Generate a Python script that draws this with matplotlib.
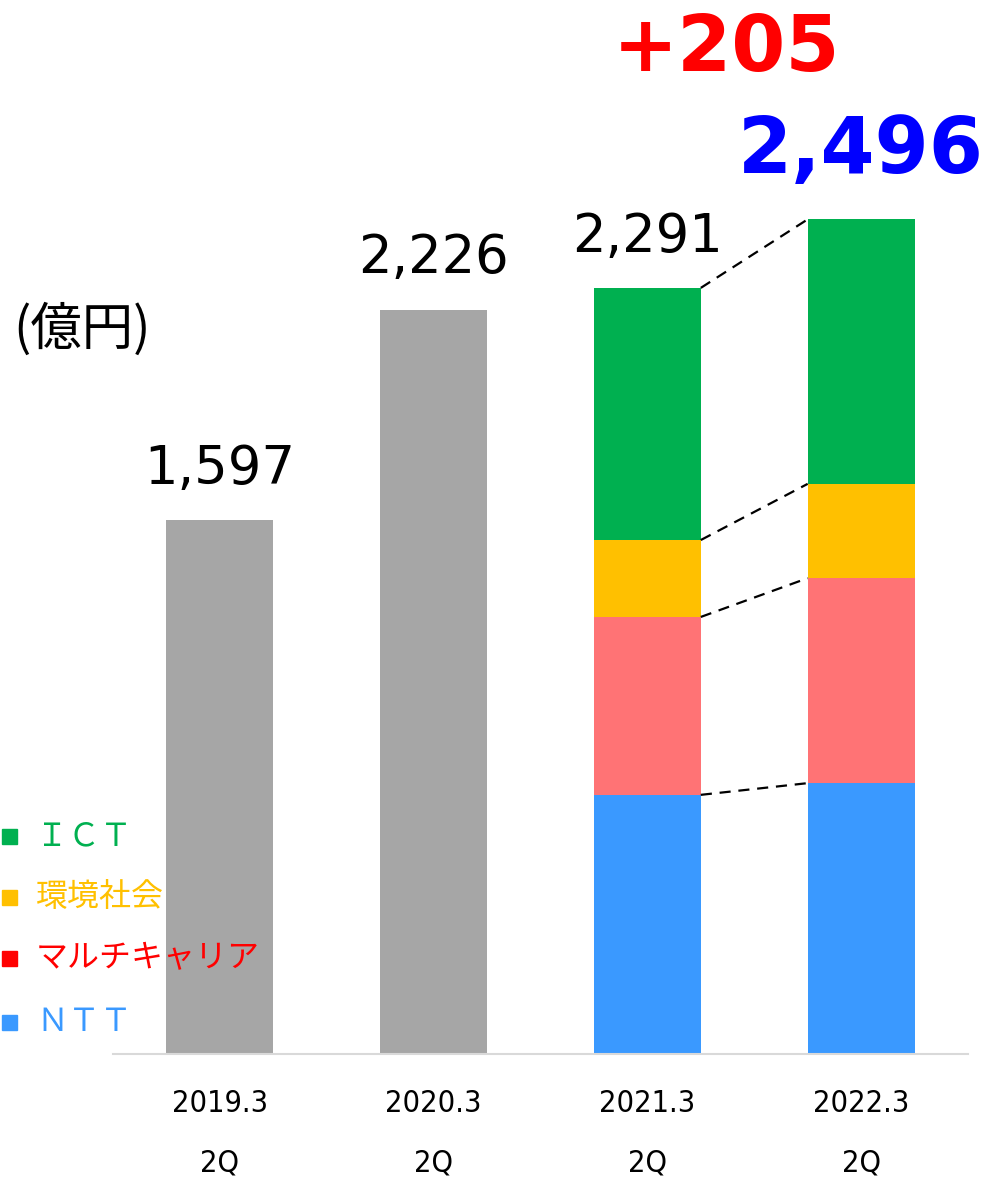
import matplotlib.pyplot as plt
from matplotlib.patches import Rectangle

# データ（億円）
periods = ['2019.3', '2020.3', '2021.3', '2022.3']
quarter = ['2Q', '2Q', '2Q', '2Q']
totals = [1597, 2226, 2291, 2496]

# 2021.3 / 2022.3 の内訳（下から NTT, マルチキャリア, 環境社会, ICT）
seg_names = ['ＮＴＴ', 'マルチキャリア', '環境社会', 'ＩＣＴ']
seg_2021 = [775, 532, 230, 754]
seg_2022 = [810, 613, 282, 791]
diff_label = '+205'

gray = '#A6A6A6'
seg_colors = ['#3A99FF', '#FF7375', '#FFC000', '#00B050']
legend_text_colors = ['#3A99FF', '#FF0000', '#FFC000', '#00B050']
legend_box_colors = ['#3A99FF', '#FF0000', '#FFC000', '#00B050']

jp = ['Noto Sans CJK JP', 'DejaVu Sans']

fig = plt.figure(figsize=(9.85, 11.81), dpi=100)
ax = fig.add_axes([113 / 985, 127 / 1181, 855 / 985, 1054 / 1181])

x = list(range(len(periods)))
width = 0.5

# 灰色の棒（2019, 2020）
ax.bar(x[:2], totals[:2], width=width, color=gray)

# 積み上げ棒（2021, 2022）
bottoms = [0, 0]
tops_2021, tops_2022 = [], []
for i in range(len(seg_names)):
    ax.bar([2, 3], [seg_2021[i], seg_2022[i]], width=width,
           bottom=bottoms, color=seg_colors[i])
    bottoms = [bottoms[0] + seg_2021[i], bottoms[1] + seg_2022[i]]
    tops_2021.append(bottoms[0])
    tops_2022.append(bottoms[1])

# 点線で内訳をつなぐ
for a, b in zip(tops_2021, tops_2022):
    ax.plot([2 + width / 2, 3 - width / 2], [a, b], color='black',
            lw=1.6, ls=(0, (5, 3.5)))

ax.set_xlim(-0.5, 3.5)
ax.set_ylim(0, 1054 / 0.3344)

# 合計ラベル
for i in range(3):
    ax.annotate(f'{totals[i]:,}', (x[i], totals[i]), xytext=(0, 37),
                textcoords='offset points', ha='center', va='center',
                fontsize=38, family='DejaVu Sans')
ax.annotate(f'{totals[3]:,}', (x[3], totals[3]), xytext=(0, 49),
            textcoords='offset points', ha='center', va='center',
            fontsize=56, fontweight='bold', color='#0000FF', family='DejaVu Sans')
ax.text((727 - 219.5) / 214.3, (1054 - 49) / 1054, diff_label,
        transform=ax.get_xaxis_transform(), ha='center', va='center',
        fontsize=56, fontweight='bold', color='#FF0000', family='DejaVu Sans')

# x軸ラベル（2行）
for i in x:
    ax.text(i, -49 / 1054, periods[i], transform=ax.get_xaxis_transform(),
            ha='center', va='center', fontsize=22, family='DejaVu Sans',
            stretch='condensed')
    ax.text(i, -109 / 1054, quarter[i], transform=ax.get_xaxis_transform(),
            ha='center', va='center', fontsize=22, family='DejaVu Sans',
            stretch='condensed')

ax.set_xticks([])
ax.set_yticks([])
for s in ['top', 'right', 'left']:
    ax.spines[s].set_visible(False)
ax.spines['bottom'].set_color('#D9D9D9')
ax.spines['bottom'].set_linewidth(1.5)

# 単位
fig.text(13 / 985, 1 - 330 / 1181, '(億円)', ha='left', va='center',
         fontsize=37, family=jp)

# 凡例（上から ICT, 環境社会, マルチキャリア, NTT）
legend_y = [836, 897, 958, 1022]
order = [3, 2, 1, 0]
for y, k in zip(legend_y, order):
    fy = 1 - y / 1181
    fig.patches.append(Rectangle((2 / 985, fy - 7.5 / 1181), 15 / 985, 15 / 1181,
                                 transform=fig.transFigure,
                                 color=legend_box_colors[k]))
    fig.text(36 / 985, fy, seg_names[k], ha='left', va='center',
             fontsize=23, color=legend_text_colors[k], family=jp)

fig.savefig('out.png', dpi=100)
